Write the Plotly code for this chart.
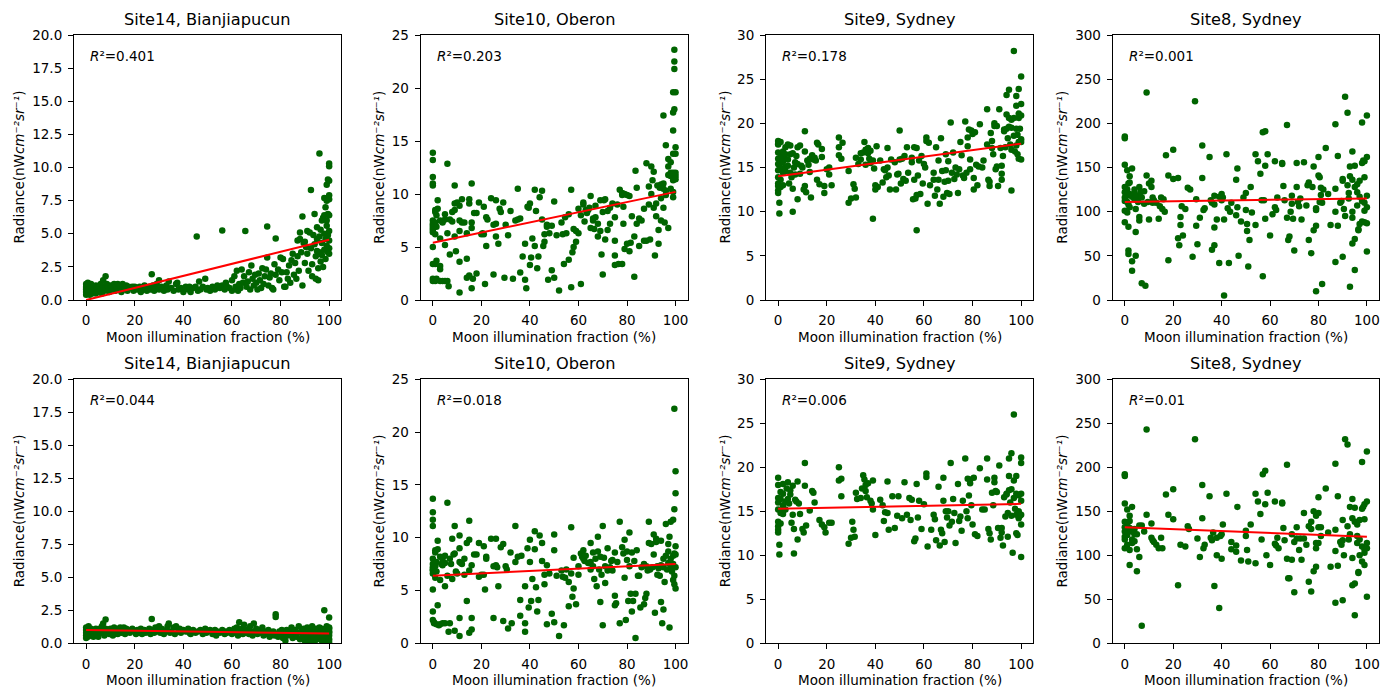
import plotly.graph_objects as go

# ---- panel text ---------------------------------------------------------
titles = ["Site14, Bianjiapucun", "Site10, Oberon", "Site9, Sydney", "Site8, Sydney"]
y_max = [20, 25, 30, 300]
y_step = [2.5, 5, 5, 50]
y_fmt = [".1f", "d", "d", "d"]
x_ticks = [0, 20, 40, 60, 80, 100]
r2_raw = ["0.401", "0.203", "0.178", "0.001"]
r2_corr = ["0.044", "0.018", "0.006", "0.01"]

# linear fit values at moon fraction 0 % and 100 %
fit_x = [0, 100]
fit_raw = [(0.0, 4.55), (5.4, 10.2), (14.0, 17.7), (111, 115)]
fit_corr = [(1.0, 0.75), (6.4, 7.5), (15.3, 15.85), (132, 121)]

# ---- observations: (moon illumination %, radiance) -----------------------
site14_raw = [
    (0,0.4),(0,0.6),(0,0.8),(0,1.0),(0,1.2),(0,0.9),(0.3,1.1),(0.5,0.5),(0.5,0.7),(0.7,1.3),(1,0.9),(1,0.6),(1,1.1),(1.2,0.8),(1.5,1.0),(1.5,0.4),(2,0.7),(2,1.2),(2.3,0.9),(2.5,0.5),
    (3,1.0),(3,0.6),(3.5,0.8),(4,1.1),(4,0.5),(4.5,0.9),(5,0.7),(5,1.0),(5.5,0.6),(6,1.2),(6,0.8),(6.5,0.5),(7,1.0),(7,1.5),(7.5,0.7),(8,1.8),(8,0.9),(8.5,1.2),
    (9,1.0),(9.5,0.6),(10,1.1),(10.5,0.8),(11,0.9),(11.5,1.2),(12,0.7),(12.5,1.0),(13,1.2),(13.5,0.8),(14,1.1),(14.5,0.6),(15,1.0),(15,1.2),(16,0.8),(16.5,1.1),(17,0.7),(17.5,1.0),(18,0.9),(19,1.0),(19.5,0.7),(20,1.0),
    (21,0.8),(22,1.0),(22.5,0.6),(23,0.9),(24,1.1),(24.5,0.8),(25,0.7),(26,1.0),(26.5,0.8),(27,1.95),(27.5,1.1),(28,0.7),(28.5,0.9),(29,1.2),(30,0.8),(30,1.5),(31,1.0),
    (32,0.7),(33,1.1),(33.5,0.8),(34,1.4),(35,0.9),(36,0.7),(37,1.2),(37.5,1.3),(38,0.8),(39,0.9),(40,0.6),(41,1.0),(42,0.8),(42.5,1.0),(43,0.6),(44,0.9),(45,1.0),(45.5,4.8),(46,0.7),(46.5,1.4),
    (47,0.8),(48,1.0),(49,1.6),(49.5,0.8),(50,0.9),(51,0.7),(52,1.0),(53,0.8),(54,1.1),(55,0.9),(56,5.25),(56,1.1),(57,0.8),(57.5,1.3),(58,1.0),(59,0.9),(60,1.5),(60,0.7),
    (61,1.8),(61.5,1.0),(62,2.2),(62.5,0.7),(63,1.2),(63.5,0.9),(64,2.3),(64.5,1.3),(65,1.8),(65.5,5.2),(66,1.0),(66.5,1.4),(67,2.1),(67.5,0.8),(68,2.6),(68.5,1.6),(69,1.1),(69.5,1.9),(70,1.3),
    (70.5,0.8),(71,2.0),(71.5,1.5),(72,0.9),(72.5,2.4),(73,1.2),(73.5,1.8),(74,2.3),(74.5,5.55),(74.5,3.2),(75,1.1),(75.5,1.7),(76,2.0),(76.5,0.9),(77,0.8),(77.5,2.7),(78,4.65),(78,1.9),(79,2.3),(79.5,1.5),(80,3.2),
    (80.5,2.1),(81,3.1),(81.5,1.0),(82,1.0),(82.5,2.1),(83,1.6),(83.5,2.6),(84,1.3),(84.5,3.0),(85,3.5),(85.5,1.9),(86,2.8),(86.5,1.6),(87,3.3),(87,4.5),(87.5,2.2),(88,4.6),(88,5.1),(88.5,3.6),(89,6.3),(89,1.1),(89.5,4.3),(90,4.4),(90,2.8),
    (90.5,4.0),(91,3.5),(91,5.2),(91.5,2.2),(92,5.1),(92.5,8.3),(92.5,3.9),(93,2.7),(93,1.8),(93.5,4.9),(94,6.5),(94,4.2),(94.5,3.3),(94.5,1.6),(95,4.6),(95,5.5),(95,3.7),(95.5,2.4),(95.5,1.5),
    (96,11.05),(96,4.8),(96,3.6),(96.5,5.3),(96.5,2.9),(97,6.0),(97,3.4),(97,4.3),(97.5,6.2),(97.5,2.5),(98,7.7),(98,5.0),(98,3.8),(98,6.4),(98.5,7.0),(98.5,4.6),(98.5,3.1),
    (99,8.7),(99,6.0),(99,5.6),(99,4.1),(99,7.5),(99.5,9.1),(99.5,6.5),(99.5,4.9),(99.5,3.6),(100,10.3),(100,10.1),(100,9.0),(100,7.6),(100,6.4),(100,5.2),(100,3.9),(100,3.5),(100,4.5),(100,7.9),
]

site14_corr = [
    (0,0.4),(0,0.6),(0,0.8),(0,1.0),(0,1.2),(0.3,0.9),(0.5,1.1),(0.7,0.5),(1,0.7),(1,1.3),(1.2,0.9),(1.5,1.0),(2,0.6),(2,1.1),(2.5,0.8),(3,1.0),(3,0.5),(3.5,0.9),(4,1.1),(4.5,0.7),(5,0.9),(5,0.5),(5.5,1.1),(6,0.8),(6.5,1.3),(7,1.5),(7,0.9),(7.5,0.6),(8,1.8),(8,1.1),(8.5,0.8),(9,1.0),(9.5,0.7),(10,1.1),
    (10.5,0.9),(11,0.6),(11.5,1.2),(12,0.9),(12.5,1.0),(13,0.7),(13.5,1.1),(14,1.2),(14.5,0.8),(15,1.0),(15.5,1.2),(16,0.7),(16.5,1.1),(17,0.9),(17.5,1.0),(18,0.8),(19,1.1),(20,0.9),(20.5,0.7),(21,1.0),(22,0.8),(22.5,1.1),(23,0.7),(24,1.0),(24.5,0.8),(25,0.9),(26,1.1),(26.5,0.7),(27,1.85),(27.5,1.0),(28,0.8),(28.5,1.2),(29,0.9),(30,1.3),(30.5,0.8),
    (31,1.1),(32,0.7),(33,1.0),(33.5,1.3),(34,1.5),(34.5,0.8),(35,0.9),(36,1.2),(36.5,0.7),(37,1.3),(38,0.9),(38.5,1.1),(39,0.8),(40,1.0),(41,0.9),(42,1.1),(42.5,0.8),(43,0.7),(44,1.0),(45,0.8),(46,0.9),(47,1.0),(48,0.7),(49,1.1),(49.5,0.8),(50,0.9),(51,1.0),(52,0.7),(53,1.0),(53.5,0.6),(54,0.9),(55,0.8),(56,1.0),(57,0.7),(57.5,0.9),(58,0.8),(59,1.0),(60,0.7),
    (60.5,0.9),(61,1.1),(61.5,0.8),(62,1.2),(62.5,0.6),(63,1.6),(63.5,0.9),(64,1.1),(64.5,0.7),(65,1.4),(65.5,0.8),(66,1.0),(67,0.7),(67.5,1.3),(68,0.9),(68.5,0.6),(69,1.5),(69.5,0.8),(70,1.1),(70.5,0.7),(71,1.0),(72,0.8),(72.5,1.2),(73,0.6),(73.5,0.9),(74,0.7),(75,1.0),(75.5,0.5),(76,0.8),(77,0.9),(77.5,0.6),(78,2.2),(78,2.0),(78.5,0.7),(79,0.5),(79.5,0.9),(80,0.6),
    (80.5,1.0),(81,0.4),(81.5,0.8),(82,0.2),(82.5,1.0),(83,0.6),(83.5,0.9),(84,0.7),(84.5,1.2),(85,0.4),(85.5,0.8),(86,1.0),(86.5,0.5),(87,0.8),(87.5,1.3),(88,0.3),(88.5,0.9),(89,0.6),(89.5,1.1),(90,0.2),
    (90.5,0.8),(91,1.2),(91,0.5),(91.5,0.9),(92,0.2),(92.5,1.0),(93,0.6),(93,1.3),(93.5,0.4),(94,0.9),(94,0.1),(94.5,1.1),(95,0.7),(95,0.3),(95.5,1.0),(96,0.5),(96,1.2),(96.5,0.8),(97,0.2),(97,1.1),(97.5,0.6),(98,2.5),(98,0.9),(98,0.3),(98.5,1.1),(98.5,0.6),
    (99,0.8),(99,1.3),(99,0.2),(99.5,1.0),(99.5,0.5),(99.5,0.1),(100,1.95),(100,1.2),(100,0.9),(100,0.6),(100,0.3),(100,1.1),(100,0.1),(100,0.8),
]

site10_raw = [
    (0,13.9),(0,13.2),(0,11.6),(0,11.0),(0,10.8),(0,7.5),(0,7.2),(0,7.0),(0,6.8),(0,6.6),(0,6.4),(0,5.0),(0,3.4),(0,2.0),(0,1.8),(0.5,1.9),
    (1,8.5),(1,8.3),(1.5,8.0),(1,7.3),(1.5,6.9),(1,6.2),(1.5,3.7),(1,3.4),(1.5,2.0),(1,1.8),(2,9.4),(2,8.6),
    (3,5.8),(3,3.2),(3,2.9),(3,1.8),(3,7.5),(4,7.4),(4,7.3),(4,1.8),(5,8.1),(5,5.2),(5,7.6),(5,1.8),
    (6,12.85),(6,6.3),(6,1.8),(6.5,1.3),(7,4.3),(7,7.6),(8,8.3),(8,7.4),(9,9.1),(9,10.8),(9,6.0),(9,8.5),(9.5,4.6),(10,9.2),
    (11,0.7),(11,6.5),(11,3.6),(11,7.5),(11,8.9),(12,9.5),(12,7.3),(13,7.3),(14,3.9),(14,6.3),(14,2.1),(15,9.5),(15,9.1),(15,2.3),
    (16,11.0),(16,1.1),(16,6.8),(16,7.3),(16.5,2.0),(17,8.2),(18,8.2),(18,2.5),(19,9.2),(20,6.2),(20.5,6.3),(21,8.8),(21.5,1.5),(22,5.1),(21,6.2),(22,7.8),(22.5,7.6),
    (24,9.6),(25,2.4),(25,7.1),(26,9.4),(26,7.2),(26,6.0),(27,5.3),(27.5,8.6),(28,8.3),(29,9.2),(29.5,2.1),(30,7.1),(31,6.1),(32,8.4),(33,2.0),(34,7.5),
    (35,10.5),(35,7.6),(36,2.6),(36,7.7),(37,4.1),(38,5.3),(38,1.9),(38.5,1.1),(39,8.8),(39.5,8.7),(40,3.3),(40,9.1),(40.5,4.0),(41,5.8),(42,10.4),(42,5.1),(42.5,8.4),(43,3.0),(43.5,4.1),(44,9.7),
    (45,10.3),(45,7.6),(45.5,5.1),(46,6.2),(46,5.5),(47,6.9),(47,7.1),(47.5,1.9),(48,6.3),(49,2.8),(49,7.0),(50,9.3),(50,2.1),(51,6.1),(52,0.9),(53,7.3),(53.5,6.2),(54,3.4),(54.5,7.8),(55,6.3),
    (56,3.8),(56,8.1),(57,10.4),(57,1.2),(57.5,4.5),(58,5.0),(58,6.7),(59,6.5),(59,5.5),(60,8.6),(60,6.3),(61,1.5),(61,8.0),(62,9.2),(62,9.0),(62.5,7.4),(63,8.5),(63.5,8.2),(64,8.5),(64.5,8.7),
    (65,9.8),(65,6.8),(66,7.5),(66,7.7),(66.5,6.7),(67,8.9),(67,7.8),(68,7.2),(68,6.0),(69,9.4),(69,6.5),(69.5,4.3),(70,2.4),(70,8.3),(70.5,9.4),(71,9.5),(71,5.7),(72,8.4),(72,6.6),(73,8.7),(73,7.2),(74,9.1),
    (75,5.6),(75,7.8),(75,4.2),(75,3.3),(76,9.0),(76.5,3.4),(77,10.4),(78,10.1),(78,9.9),(78,3.4),(78.5,8.8),(78.5,7.2),(79,4.8),(79,10.0),(80,9.9),(80,5.3),(81,9.8),(81,4.6),(81.5,5.4),(82,7.9),
    (83,6.0),(83,2.2),(83.5,12.2),(84,7.2),(84,10.6),(85,5.1),(85,7.7),(86,7.5),(87,5.6),(87,8.6),(88,12.9),(88,5.6),(89,9.0),(89,10.7),(89.5,5.7),(90,12.6),(90,10.0),(90.5,11.3),
    (91,12.1),(91,8.7),(91.5,4.2),(92,7.9),(92,9.1),(92.5,10.8),(93,6.6),(93,5.3),(93.5,10.6),(94,10.9),(94,7.5),(94,9.6),(95,17.4),(95,11.0),(95,10.5),(95,8.7),(95.5,7.3),
    (96,14.6),(96,10.3),(96,9.9),(97,11.8),(97,12.6),(97,13.3),(97,6.8),(98,12.0),(98,13.0),(98,11.7),(98,10.5),
    (99,19.6),(99,16.0),(99,11.3),(99,9.7),(99,10.2),(99,12.0),(99,13.8),(99,17.7),(99.5,23.6),(99.5,22.5),(99.5,21.8),(99.5,18.0),
    (100,19.6),(100,14.4),(100,13.8),(100,11.7),(100,11.4),(100,12.0),
]

site10_corr = [
    (0,13.7),(0,12.4),(0,11.7),(0,11.1),(0,8.0),(0,7.5),(0,7.2),(0,7.0),(0,6.9),(0,6.6),(0,5.1),(0,3.0),(0,2.2),(0.5,2.0),(0.5,1.9),
    (1,8.8),(1,8.6),(1.5,7.7),(1,7.3),(1.5,6.8),(1,6.2),(1.5,1.8),(2,9.7),(2,8.9),(2,3.6),(2.5,1.7),
    (3,6.0),(3,8.2),(3,1.8),(3.5,7.5),(4,7.4),(4,8.0),(4,1.9),(5,5.4),(5,8.3),(5,7.6),(5,1.9),(6,13.3),(6,6.4),(6.5,1.1),(7,8.0),(7,1.9),(7.5,7.5),
    (8,9.9),(8,6.1),(8.5,8.4),(9,11.1),(9,8.5),(9,1.2),(9.5,6.8),(10,6.6),(11,10.2),(11,9.0),(11,7.7),(11,2.4),(11,0.7),(11.5,7.6),(12,7.5),(13,8.0),(13,6.5),(14,9.5),(14,4.0),
    (15,11.6),(15,9.8),(15,6.9),(15,1.0),(16,2.4),(16,1.3),(16,7.4),(17,8.4),(18,8.4),(19,9.5),(19,6.3),(20,6.5),(21,9.2),(21,6.5),(21.5,5.1),(22,8.2),(22,8.0),
    (24,9.9),(25,2.4),(25,7.3),(26,9.9),(26,7.4),(26.5,7.2),(27,5.4),(28,9.1),(29,9.4),(29,2.1),(30,7.3),(30.5,7.0),(31,1.4),(32,8.6),(32.5,1.9),(34,11.1),(34,7.7),(35,8.2),
    (36,2.6),(36,4.1),(36.5,8.3),(38,1.9),(38,1.1),(38,5.4),(39,9.0),(39.5,3.4),(40,9.8),(40,7.7),(40.5,4.0),(41,6.1),(42,10.6),(42,8.9),(42.5,5.3),(43,3.0),(43.5,4.1),(44,10.2),
    (45,9.5),(45,7.8),(46,5.6),(46,6.5),(47,7.4),(47,1.8),(48,6.6),(49,2.8),(50,10.3),(50,8.8),(50,2.0),(51,6.4),(52,0.7),(53,6.9),(53.5,6.3),(54,1.7),(54.5,6.2),(55,7.0),
    (56,5.8),(56,3.5),(57,11.0),(57,6.6),(57.5,4.4),(58,8.1),(58,5.2),(59,3.7),(60,7.3),(60,6.5),(61,8.5),(61.5,8.2),(62,8.8),(62,8.0),(62.5,7.8),(63,8.3),(64,7.6),
    (65,9.5),(65,7.7),(65,7.0),(66,8.6),(66,7.3),(66.5,6.1),(67,8.0),(67.5,5.4),(68,10.1),(68,8.7),(68.5,7.0),(69,3.9),(69,8.2),(69.5,6.5),(70,11.1),(70,1.7),(70.5,8.1),
    (71,5.7),(71,7.3),(72,9.0),(72,6.9),(73,7.2),(73.5,7.8),(74,7.9),(74,6.9),(75,8.6),(75,4.5),(75,3.6),(75.5,3.8),(76,7.7),(77,11.5),(77,1.9),(78,9.1),(78.5,8.5),
    (79,9.8),(79,6.2),(79.5,2.2),(80,8.7),(80,7.9),(80.5,4.0),(81,10.5),(81,7.3),(81.5,4.7),(82,8.6),(82,3.0),(82.5,4.0),(83,7.8),(83.5,0.5),(83.5,4.7),(84,8.8),(84.5,6.4),
    (85,6.4),(85.5,3.4),(86,7.2),(87,7.5),(87,3.7),(87.5,4.3),(88,7.3),(88,4.7),(88.5,6.9),(89,11.5),(89,9.5),(89.5,7.0),(90,9.4),(90.5,7.2),
    (91,10.3),(91,8.4),(91.5,2.9),(92,9.9),(92,9.6),(92.5,6.5),(92.5,7.3),(93,7.1),(93.5,6.4),(94,9.7),(94,7.4),(94,3.9),(94.5,1.9),(95,8.0),(95,7.2),(95.5,5.8),(95,3.2),
    (96,11.3),(96,8.3),(96.5,7.0),(97,9.4),(97,8.7),(97,7.6),(97.5,1.5),(97.5,10.1),(98,11.5),(98,8.0),(98,7.2),(98.5,6.8),(99,11.7),(99,8.3),(99,6.0),(99,7.5),
    (99.5,22.2),(99.5,12.7),(99.5,8.5),(99.5,6.4),(99.5,5.6),(100,16.3),(100,14.2),(100,9.2),(100,7.2),(100,5.2),(100,8.4),
]

site9_raw = [
    (0,18.0),(0,17.7),(0,17.6),(0,16.7),(0,16.0),(0,15.4),(0,14.7),(0,13.9),(0,13.2),(0,12.9),(0,12.4),(0,12.1),(0.5,11.0),(0.5,9.8),(0.5,15.3),
    (1,17.9),(1,16.5),(1,15.5),(1,14.9),(1,13.6),(1,12.8),(2,16.8),(2,16.0),(2,15.7),(2,14.4),(2,13.0),(3,16.5),(3,15.1),(3,14.6),(3,17.3),
    (4,17.6),(4,15.9),(4,15.2),(4.5,13.2),(5,16.5),(5,17.5),(5,14.4),(5.5,13.9),(6,16.6),(6,12.6),(6,10.0),(6.5,15.0),(7,15.6),(7,14.2),(7.5,16.3),
    (8,17.3),(8,15.4),(8,11.4),(9,17.5),(9,14.3),(9.5,15.2),(10,15.0),(10.5,12.5),(11,19.1),(11,16.8),(11,12.9),(11.5,12.2),(12,15.8),(12.5,15.3),
    (13,14.5),(13,16.0),(13.5,11.6),(14,16.4),(14.5,15.9),(15,16.1),(15.5,15.8),(16,17.8),(16,13.6),(16.5,17.6),(17,13.1),(18,16.2),(18,17.1),(19,12.9),(19,12.1),
    (20,14.8),(21,15.0),(21,14.2),(22,13.0),(25,18.4),(25,17.3),(25,16.4),(26,16.0),(26.5,17.8),(29,14.6),(29,11.0),(30,11.5),(31,13.1),(31.5,12.6),(32,16.1),(32,11.6),
    (33,15.4),(34,16.6),(34,15.9),(35,16.7),(35.5,17.9),(36,17.0),(36,15.3),(36.5,16.9),(37,16.6),(37,17.2),(37.5,16.0),(38,15.5),(38,16.9),(39,15.8),(39,9.2),(39.5,14.9),
    (40,13.0),(40,12.5),(40.5,17.4),(41,12.8),(42,15.8),(43,13.3),(43.5,14.8),(44,14.7),(44.5,13.9),(45,17.2),(45,15.0),(45.5,14.1),(46,12.5),(46.5,15.9),(48,15.6),(48.5,12.5),
    (49,14.2),(49.5,14.3),(50,19.2),(50,15.9),(50.5,13.2),(51,16.0),(51.5,13.7),(52,16.3),(52.5,13.5),(53,17.3),(53.5,14.4),(55,16.1),(55,15.6),(55.5,11.4),
    (56,17.3),(56,13.6),(56.5,11.5),(57,17.2),(57,11.9),(57.5,14.1),(57,7.9),(58,15.8),(58.5,12.0),(59,16.3),(59.5,13.2),(60,15.4),(60.5,15.0),(61,18.4),(61,18.0),(61.5,10.9),
    (62,17.8),(62.5,13.0),(64,14.4),(64,13.6),(64.5,11.8),(65,17.3),(65.5,12.5),(66,15.8),(66,13.6),(66.5,10.9),(67,18.3),(67.5,14.6),(68,11.7),(68.5,13.4),
    (69,16.5),(69,14.7),(69.5,12.1),(70,13.5),(70,15.7),(70.5,12.0),(71,20.1),(71.5,14.4),(72,16.7),(72.5,13.7),(73,15.0),(73.5,14.2),(74,12.1),(74.5,14.8),(75,17.9),(75.5,16.4),
    (76,14.1),(76.5,13.8),(77,20.2),(77.5,14.4),(78,18.4),(78,17.4),(78.5,19.3),(79,15.9),(79,14.8),(79.5,19.2),(80,18.8),(80.5,12.5),(80.5,13.8),(81,19.0),(81.5,15.3),
    (82,13.0),(82.5,15.1),(83,19.9),(84,15.0),(84.5,15.8),(86,21.6),(86,17.6),(86.5,13.6),(87,13.4),(87,12.9),(87.5,18.9),(88,18.0),(88,17.2),(88.5,16.5),
    (89,19.7),(89,20.0),(89.5,14.8),(90,19.7),(90,15.1),(90.5,12.9),(91,21.6),(91.5,17.2),(92,15.2),(92,14.3),(92,13.6),(92.5,16.3),(93,19.3),(93,19.1),(93.5,17.3),
    (94,23.2),(94,21.0),(94,19.4),(94.5,18.3),(95,23.8),(95,20.6),(95,19.6),(95.5,17.6),(96,20.4),(96,19.5),(96,17.0),(96,12.4),(97,28.2),(97,20.6),(97,18.6),(97.5,16.8),
    (98,23.1),(98,22.0),(98,19.4),(98,17.5),(98.5,16.5),(98.5,18.7),(99,23.9),(99,21.1),(99,20.6),(99,17.9),(99,16.0),(99.5,19.4),
    (100,25.3),(100,22.2),(100,20.9),(100,18.2),(100,17.9),(100,15.9),
]

site9_corr = [
    (0,18.8),(0,18.0),(0,16.5),(0,16.0),(0,15.2),(0,13.8),(0,13.3),(0,12.9),(0,12.6),(0.5,10.1),(0.5,11.2),
    (1,17.2),(1,16.4),(1,14.8),(1,13.6),(2,18.1),(2,17.0),(2,15.7),(2,15.0),(2,14.7),(3,16.1),(3,15.2),(3.5,17.6),(4,18.3),(4,16.4),(4.5,15.9),
    (5,16.9),(5,17.4),(5.5,13.7),(6,17.9),(6,14.6),(6.5,10.2),(6.5,13.0),(7,16.3),(7.5,16.1),(8,18.4),(8,11.8),(8.5,15.9),(9,14.7),(10,13.0),(10.5,12.6),
    (11,20.5),(11,17.9),(11.5,13.4),(13,15.1),(14,17.3),(14.5,17.1),(15,16.0),(17,14.0),(18,13.5),(19,13.2),(19.5,12.6),(21,13.7),(22,13.7),
    (25,20.0),(25,18.5),(26,18.7),(26,16.7),(29,11.3),(30,12.0),(30.5,13.8),(31,12.9),(31.5,12.1),(32,17.1),(32.5,16.4),(34,16.5),(34.5,17.6),
    (35,19.1),(35.5,18.6),(36,17.3),(36,18.0),(36.5,16.6),(37,18.2),(38,16.2),(38.5,15.9),(39,15.2),(39,18.5),(40,12.3),(42,16.3),(43,15.7),(43.5,13.9),(44,14.9),
    (45,18.4),(45,14.8),(45.5,12.9),(47,16.7),(48,13.1),(49,14.5),(49.5,16.7),(51,14.2),(52,18.3),(53,14.6),(54,16.5),(54.5,14.0),(55,16.3),(56,11.6),(56.5,11.9),
    (57,18.1),(57.5,14.3),(58,16.2),(59,13.0),(60,15.8),(61,19.3),(61,18.9),(61.5,11.0),(63,12.9),(64,14.6),(64.5,14.1),(65,11.7),(66,17.8),(66.5,11.1),
    (67,12.9),(67.5,12.5),(68,18.8),(68,16.2),(68.5,11.5),(69,15.0),(69.5,14.3),(70,15.0),(70.5,13.4),(71,20.5),(71.5,13.8),(72,16.4),(72.5,14.8),(73,11.4),
    (74,18.1),(74.5,13.9),(75,14.4),(75.5,12.8),(76,16.2),(77,21.0),(77.5,15.0),(78,18.7),(78,14.2),(78.5,16.8),(79,18.6),(79,18.2),(79.5,15.7),(80,13.5),(80.5,18.8),
    (81,12.4),(82,12.2),(83,19.9),(84,15.2),(85,15.2),(86,21.0),(86,18.6),(86.5,13.0),(87,12.5),(87.5,11.8),(88,17.1),(88.5,15.7),(89,18.8),(89,18.3),(89.5,17.3),
    (90,17.2),(90.5,13.1),(91,20.2),(91.5,12.0),(92,13.1),(92,12.6),(92.5,11.1),(93,16.6),(93.5,14.4),(94,17.0),(94,16.9),(94.5,14.8),(94.5,12.1),
    (95,21.0),(95,19.0),(95,17.4),(95.5,16.0),(96,21.6),(96,17.5),(96,14.5),(96.5,10.3),(97,26.0),(97,18.5),(97,16.5),(97.5,15.3),
    (98,19.0),(98,17.0),(98,14.6),(98,12.5),(98.5,12.3),(99,16.8),(99,15.0),(99,14.2),(99.5,14.5),
    (100,21.1),(100,20.5),(100,17.0),(100,14.6),(100,13.5),(100,9.8),(100,16.2),
]

site8_raw = [
    (0,185),(0,183),(0,153),(0,128),(0,122),(0,116),(0,112),(0,101),(0,88),(1,147),(1,125),(1,118),(1,111),(1,99),(1.5,83),(1.5,56),(1.5,52),(1.5,132),(1.5,108),
    (2,140),(2,133),(2,120),(2,105),(3,149),(3,117),(3,44),(3,33),(4,125),(4,121),(4,114),(4.5,77),(4.5,50),(4.5,103),(5,118),(5,113),(5.5,111),
    (6,128),(6,94),(6,90),(6.5,122),(7,116),(7,19),(8,123),(8,109),(8.5,16),(9,235),(9,141),(9.5,111),(10,132),(10,91),(11,135),(11,128),(11.5,116),(11.5,110),
    (12,113),(13,110),(14,92),(14.5,106),(15,116),(15.5,103),(16,114),(16.5,100),(17,164),(18,141),(18,45),(20,137),(20,170),(22,138),(22,70),(22.5,62),
    (23,94),(23,85),(23.5,106),(24,73),(25,103),(26,127),(27,125),(28,49),(29,225),(29.5,114),(29.5,84),(30,63),(31,93),(32,175),(32,138),(32.5,102),(33,104),
    (35,162),(35.5,113),(36,57),(36,110),(37,118),(37,108),(37,82),(37,62),(38,91),(39,42),(39,117),(40,120),(40,113),(40.5,116),(41,91),(41,5),(42,165),(42.5,104),
    (43,42),(43.5,100),(44,110),(46,136),(46.5,149),(46,96),(46.5,105),(47,50),(48,89),(49,116),(50,102),(50,121),(50.5,86),(50.5,78),(51,38),(51.5,68),(52,128),(52.5,99),
    (54,165),(54,85),(55,157),(56,143),(56.5,113),(57,190),(57,27),(57.5,113),(58,191),(58,152),(58,92),(59,165),(60,73),(61,97),(62,157),(62,105),(62.5,102),(63,116),
    (65,155),(65,154),(65.5,129),(66,113),(67,198),(67,93),(67.5,68),(68,72),(68.5,100),(69,118),(69,109),(69.5,92),(70,56),(71,155),(71,128),(71.5,111),(72,106),(72.5,115),
    (73,91),(74,156),(75,107),(75.5,130),(76,133),(76,68),(77,53),(77.5,128),(78,151),(78,79),(79,104),(79,102),(79,84),(79,10),(80,162),(80,141),(80.5,139),(80.5,111),
    (81,127),(81,119),(81.5,110),(81.5,18),(82,125),(83,172),(84,120),(85,85),(87,199),(87,126),(87,100),(87,43),(88,163),(88,84),(89,110),(89.5,112),
    (90,49),(90,137),(90,135),(90.5,103),(91,95),(91,230),(92,212),(92,130),(92.5,115),(92.5,121),(93,151),(93,140),(93,15),
    (94,168),(94,136),(94,100),(94,64),(94,93),(95,152),(95,34),(95,69),(95,128),(96,131),(96,122),(96,107),(96.5,80),(96.5,79),(97,135),(97,117),(97,86),
    (98,201),(98,155),(98.5,158),(98,112),(98,89),(99,157),(99,139),(99,110),(99,101),(99,88),(100,209),(100,162),(100,118),(100,105),(100,87),(100,55),
]

site8_corr = [
    (0,190),(0,192),(0,159),(0,138),(0,132),(0,127),(0,121),(0,118),(0,108),(1,152),(1,135),(1,125),(1,123),(1,112),
    (2,145),(2,139),(2,131),(2,106),(2,89),(3,155),(3,127),(3,118),(3,114),(4,130),(4,124),(4,116),(5,124),(5,107),(5,82),(6,134),(6,98),(7,134),(7,20),(8,127),
    (9,243),(9,146),(11,136),(11,120),(11.5,117),(12,115),(13,112),(14,108),(15,120),(15.5,108),(17,169),(18,146),(20,175),(20,141),(22,66),(23,112),(25,110),(26,133),(26.5,130),
    (29,232),(30,119),(31,98),(32,180),(32,142),(32.5,108),(33,112),(35,167),(35.5,120),(36,117),(36.5,126),(37,65),(38,100),(38,120),(39,40),(39.5,122),(40,124),(40,96),(40.5,135),
    (42,170),(44,107),(44,115),(46,104),(46,111),(46.5,155),(48,94),(50,122),(50,128),(50.5,106),(51,93),(52,135),(54,170),(54,91),(55,161),(56,147),(56.5,118),
    (57,192),(58,196),(58,158),(58.5,100),(59,171),(60,89),(62,161),(62,113),(62.5,111),(63,120),(63.5,108),(65,159),(65,160),(65.5,131),(66,117),(67,203),(67,96),(67.5,74),(68,74),
    (69,124),(69,95),(70,58),(70,115),(71,132),(71,119),(72,106),(72.5,119),(73,95),(74,148),(74,119),(75,112),(76,133),(76,70),(77,138),(77,130),(77,59),(78,150),(78,82),
    (79,145),(79,114),(79,108),(79,87),(80,166),(80,148),(80,132),(80,114),(81,132),(81,122),(83,176),(84,126),(85,87),(87,204),(87,129),(87,105),(87,46),(88,167),(88,88),(89,115),(89.5,112),
    (90,49),(90,140),(90,117),(90.5,100),(91,232),(92,226),(92,133),(92.5,118),(93,155),(93,124),(94,164),(94,142),(94,97),(94,66),(95,154),(95,138),(95,32),(95,68),
    (96,135),(96,122),(96,114),(96.5,80),(96.5,81),(97,140),(97,118),(97,100),(98,206),(98,153),(98.5,155),(98,110),(98,93),(99,158),(99,141),(99,107),(99,103),(99,89),
    (100,218),(100,161),(100,114),(100,108),(100,53),
]

raw_sets = [site14_raw, site10_raw, site9_raw, site8_raw]
corr_sets = [site14_corr, site10_corr, site9_corr, site8_corr]

# ---- figure geometry (pixels) -------------------------------------------
W, H = 1380, 688
col_px = [(74, 341.3), (420.7, 687.7), (766, 1033.3), (1112.7, 1379)]
row_px = [(35, 300), (379.3, 643.3)]
ytitle_off = [55, 41.5, 41, 50.5]

FONT = "DejaVu Sans"
POINT = "#006400"
FIT = "#ff0000"
TICK_PX = 13.5


def italic(s):
    # italic run with an explicit size so every text span is sized
    return f"<span style='font-style:italic;font-size:{TICK_PX}px'>{s}</span>"


fig = go.Figure()
layout = dict(
    width=W, height=H, margin=dict(l=0, r=0, t=0, b=0, autoexpand=False),
    paper_bgcolor="white", plot_bgcolor="white", showlegend=False,
    font=dict(family=FONT, size=TICK_PX, color="black"),
)
annotations = []

ylab = "Radiance(nW" + italic("cm\u207b\u00b2sr\u207b\u00b9") + ")"

for r, (sets, r2s, fits) in enumerate([(raw_sets, r2_raw, fit_raw), (corr_sets, r2_corr, fit_corr)]):
    for c in range(4):
        k = r * 4 + c + 1
        xa = "x" if k == 1 else f"x{k}"
        ya = "y" if k == 1 else f"y{k}"
        x0, x1 = col_px[c]
        ytop, ybot = row_px[r]
        pts = sets[c]
        fig.add_trace(go.Scatter(
            x=[p[0] for p in pts], y=[p[1] for p in pts], mode="markers",
            marker=dict(color=POINT, size=6.5, line=dict(width=0)),
            xaxis=xa, yaxis=ya, hoverinfo="skip",
        ))
        fig.add_trace(go.Scatter(
            x=fit_x, y=list(fits[c]), mode="lines",
            line=dict(color=FIT, width=2), xaxis=xa, yaxis=ya, hoverinfo="skip",
        ))
        ticks_y = []
        v = 0.0
        while v <= y_max[c] + 1e-9:
            ticks_y.append(v)
            v += y_step[c]
        axis_common = dict(
            showline=True, linecolor="black", linewidth=1.1, mirror=True,
            ticks="outside", ticklen=5, tickwidth=1.1, tickcolor="black",
            showgrid=False, zeroline=False, automargin=False,
            tickfont=dict(family=FONT, size=TICK_PX, color="black"),
        )
        layout[f"xaxis{k}"] = dict(
            axis_common, domain=[x0 / W, x1 / W], range=[-5, 105],
            tickvals=x_ticks, anchor=ya, ticklabelstandoff=3,
        )
        layout[f"yaxis{k}"] = dict(
            axis_common, domain=[1 - ybot / H, 1 - ytop / H], range=[0, y_max[c]],
            tickvals=ticks_y, tickformat=y_fmt[c], anchor=xa, ticklabelstandoff=3,
        )
        # subplot title
        annotations.append(dict(
            text=titles[c], x=(x0 + x1) / 2 / W, y=1 - ytop / H, xref="paper", yref="paper",
            xanchor="center", yanchor="bottom", yshift=4, showarrow=False,
            font=dict(family=FONT, size=16.2, color="black"),
        ))
        # R^2 label
        annotations.append(dict(
            text=italic("R") + "\u00b2=" + r2s[c], x=0.052, y=0.92,
            xref=f"{xa} domain", yref=f"{ya} domain", xanchor="left", yanchor="middle",
            showarrow=False, font=dict(family=FONT, size=TICK_PX, color="black"),
        ))
        # axis titles
        annotations.append(dict(
            text="Moon illumination fraction (%)", x=(x0 + x1) / 2 / W, y=1 - (ybot + 36.5) / H,
            xref="paper", yref="paper", xanchor="center", yanchor="middle", showarrow=False,
            font=dict(family=FONT, size=TICK_PX, color="black"),
        ))
        annotations.append(dict(
            text=ylab, x=(x0 - ytitle_off[c]) / W, y=1 - (ytop + ybot) / 2 / H,
            xref="paper", yref="paper", xanchor="center", yanchor="middle", textangle=-90,
            showarrow=False, font=dict(family=FONT, size=TICK_PX, color="black"),
        ))

layout["annotations"] = annotations
fig.update_layout(**layout)
fig.write_html("out.html")
